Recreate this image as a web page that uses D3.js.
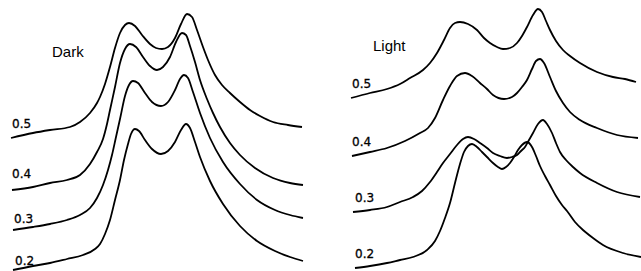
<!DOCTYPE html>
<html>
<head>
<meta charset="utf-8">
<script src="https://cdn.jsdelivr.net/npm/d3@7"></script>
<style>
  html, body { margin: 0; padding: 0; background: #fff; }
  svg { display: block; }
</style>
</head>
<body>
<script>
// Panel titles and series labels
const panels = ["Dark", "Light"];
const seriesLabels = ["0.5", "0.4", "0.3", "0.2"];

// Dark panel spectra: [position, offset intensity]
const dark05 = [[1,133],[23,138],[40,141],[60,144],[70,149],[80,158],[87,168],[90,174],[95,187],[100,204],[105,223],[110,238],[115,246],[119,248],[125,245],[132,236],[140,227],[146,223],[152,222],[158,224],[165,233],[171,247],[177,257],[182,254],[187,241],[193,224],[198,211],[205,196],[212,186],[220,178],[230,169],[240,161],[250,155],[263,149],[278,146],[292,144]];
const dark04 = [[2,81],[23,84],[40,88],[57,91],[70,96],[80,107],[87,119],[93,132],[97,147],[100,161],[105,184],[110,208],[115,222],[120,227],[126,224],[133,214],[140,205],[147,201],[153,204],[160,214],[166,229],[172,238],[176,236],[180,225],[185,209],[190,191],[197,172],[203,158],[210,144],[220,128],[230,116],[245,103],[263,93],[280,88],[293,86]];
const dark03 = [[3,41],[23,44],[40,47],[57,51],[70,56],[80,63],[87,73],[93,86],[98,101],[102,116],[106,134],[110,152],[115,175],[119,186],[123,190],[128,188],[135,178],[142,169],[151,165],[158,169],[165,181],[170,192],[174,196],[178,193],[183,179],[190,158],[200,133],[213,109],[230,87],[247,71],[265,61],[280,56],[293,53]];
const dark02 = [[3,1],[23,5],[40,8],[57,12],[73,16],[85,22],[90,27],[95,37],[100,51],[105,71],[110,91],[114,111],[118,127],[121,137],[125,142],[129,140],[135,131],[142,122],[151,117],[158,120],[165,129],[171,141],[176,147],[180,143],[185,129],[190,114],[200,90],[213,67],[230,45],[247,30],[265,20],[280,14],[293,10]];

// Light panel spectra
const light05 = [[1,173],[20,178],[37,182],[50,187],[60,193],[73,201],[80,208],[87,218],[94,231],[100,243],[105,248],[110,249],[118,247],[127,241],[134,233],[140,228],[147,224],[153,222],[160,223],[167,228],[172,235],[177,244],[183,256],[188,262],[192,259],[196,250],[200,241],[206,230],[213,221],[220,215],[230,208],[247,199],[263,194],[275,192],[286,189]];
const light04 = [[2,115],[20,119],[37,123],[55,130],[70,138],[78,143],[85,153],[93,171],[100,185],[107,195],[115,198],[122,195],[130,188],[137,182],[143,176],[154,172],[162,174],[167,178],[172,184],[177,191],[182,202],[186,210],[190,212],[194,208],[200,194],[206,180],[213,168],[220,159],[230,151],[247,143],[267,136],[288,133]];
const light03 = [[3,59],[20,61],[37,64],[50,69],[63,74],[72,80],[80,89],[87,99],[93,108],[100,117],[107,126],[113,132],[118,134],[124,132],[130,128],[137,123],[143,118],[150,115],[157,113],[162,114],[167,116],[171,120],[175,124],[179,131],[183,138],[188,147],[193,151],[197,147],[202,138],[206,128],[210,119],[216,111],[223,104],[230,98],[247,88],[267,79],[290,74]];
const light02 = [[5,3],[20,5],[37,8],[50,11],[63,14],[77,21],[85,30],[90,40],[95,53],[100,68],[105,88],[110,107],[114,119],[118,125],[122,127],[127,124],[132,119],[137,114],[143,108],[148,104],[152,102],[156,104],[160,108],[164,114],[168,121],[172,126],[177,129],[182,124],[186,115],[190,105],[195,95],[200,86],[206,75],[212,66],[217,60],[225,49],[233,41],[243,33],[253,26],[273,18],[291,14]];

// Label anchors: [position, intensity]
const darkLabelPos  = [[2,143],[2,93],[4,48],[5,6]];
const lightLabelPos = [[2,183],[2,125],[5,69],[5,13]];
const titlePos = [[42,214],[23,220]];

const W = 641, H = 271;
const svg = d3.select("body").append("svg").attr("width", W).attr("height", H);

const y = d3.scaleLinear().domain([0, 271]).range([271, 0]);
const xs = [
  d3.scaleLinear().domain([0, 300]).range([10, 310]),
  d3.scaleLinear().domain([0, 300]).range([350, 650])
];
const data = [[dark05, dark04, dark03, dark02], [light05, light04, light03, light02]];
const labelPos = [darkLabelPos, lightLabelPos];

const line = d3.line().curve(d3.curveMonotoneX);

data.forEach((series, p) => {
  const x = xs[p];
  line.x(d => x(d[0])).y(d => y(d[1]));
  const g = svg.append("g");
  g.selectAll("path").data(series).join("path")
    .attr("d", d => line(d))
    .attr("fill", "none")
    .attr("stroke", "#000")
    .attr("stroke-width", 1.8)
    .attr("stroke-linejoin", "round");
  g.selectAll("text.lbl").data(seriesLabels).join("text")
    .attr("class", "lbl")
    .attr("x", (d, i) => x(labelPos[p][i][0]))
    .attr("y", (d, i) => y(labelPos[p][i][1]))
    .attr("font-family", "DejaVu Sans, sans-serif")
    .attr("font-size", 12)
    .attr("fill", "#000")
    .attr("stroke", "#000")
    .attr("stroke-width", 0.3)
    .text(d => d);
  g.append("text")
    .attr("x", x(titlePos[p][0]))
    .attr("y", y(titlePos[p][1]))
    .attr("font-family", "Liberation Sans, Arial, sans-serif")
    .attr("font-size", 15)
    .attr("fill", "#000")
    .text(panels[p]);
});
</script>
</body>
</html>
